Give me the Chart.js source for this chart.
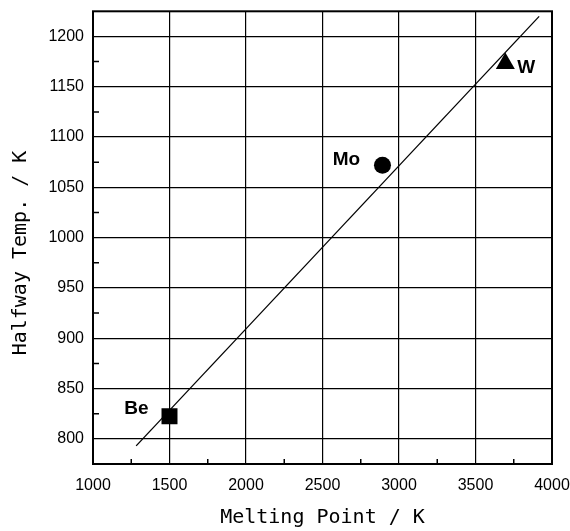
<!DOCTYPE html>
<html>
<head>
<meta charset="utf-8">
<script src="https://cdn.jsdelivr.net/npm/chart.js@4"></script>
<style>
  body { margin: 0; background: #fff; }
</style>
</head>
<body>
<canvas id="chart" width="570" height="531"></canvas>
<script>
const metals = ['Be', 'Mo', 'W']
const meltingPoint = [1500, 2892, 3695]
const halfwayTemp = [822.5, 1072, 1173]
const fitX = [1282, 3916]
const fitY = [793, 1220]
const xTicks = [1000, 1500, 2000, 2500, 3000, 3500, 4000]
const yTicks = [800, 850, 900, 950, 1000, 1050, 1100, 1150, 1200]
const xMinor = [1250, 1750, 2250, 2750, 3250, 3750]
const yMinor = [825, 875, 925, 975, 1025, 1075, 1125, 1175]

// label offsets from each marker, in pixels
const labelOffset = [[-33, -7], [-36, -5], [21, 4]]

const frame = {
    id: 'frame',
    afterDatasetsDraw(chart) {
        const { ctx, chartArea: a, scales } = chart
        ctx.save()
        ctx.strokeStyle = '#000'
        ctx.lineWidth = 2
        ctx.strokeRect(a.left, a.top, a.right - a.left, a.bottom - a.top)

        // minor ticks, drawn inwards
        ctx.lineWidth = 1.5
        ctx.beginPath()
        xMinor.forEach(v => {
            const x = scales.x.getPixelForValue(v)
            ctx.moveTo(x, a.bottom)
            ctx.lineTo(x, a.bottom - 5)
        })
        yMinor.forEach(v => {
            const y = scales.y.getPixelForValue(v)
            ctx.moveTo(a.left, y)
            ctx.lineTo(a.left + 6, y)
        })
        ctx.stroke()

        // point labels
        const meta = chart.getDatasetMeta(0)
        ctx.fillStyle = '#000'
        ctx.font = 'bold 19px "Liberation Sans Narrow", "Liberation Sans", sans-serif'
        ctx.textAlign = 'center'
        ctx.textBaseline = 'middle'
        meta.data.forEach((el, i) => {
            ctx.fillText(metals[i], el.x + labelOffset[i][0], el.y + labelOffset[i][1])
        })

        // axis titles
        ctx.font = '20px "DejaVu Sans Mono", monospace'
        ctx.fillText('Melting Point / K', (a.left + a.right) / 2, 518)
        ctx.translate(21, 253)
        ctx.rotate(-Math.PI / 2)
        ctx.fillText('Halfway Temp. / K', 0, 0)
        ctx.restore()
    }
}

const tickFont = { family: '"Liberation Sans", Arial, sans-serif', size: 16 }

function noPad(s) {
    s.paddingLeft = 0
    s.paddingRight = 0
    s.paddingTop = 0
    s.paddingBottom = 0
}

new Chart(document.getElementById('chart'), {
    type: 'scatter',
    data: {
        datasets: [{
            data: meltingPoint.map((x, i) => ({ x: x, y: halfwayTemp[i] })),
            pointStyle: ['rect', 'circle', 'triangle'],
            pointRadius: [11.3, 8.5, 11],
            backgroundColor: '#000',
            borderColor: '#000',
            borderWidth: 0
        }, {
            type: 'line',
            data: fitX.map((x, i) => ({ x: x, y: fitY[i] })),
            borderColor: '#000',
            borderWidth: 1.3,
            pointRadius: 0,
            fill: false
        }]
    },
    options: {
        responsive: false,
        animation: false,
        layout: { padding: { top: 11, right: 18, left: 0, bottom: 0 } },
        plugins: {
            legend: { display: false },
            tooltip: { enabled: false }
        },
        scales: {
            x: {
                type: 'linear',
                min: 1000,
                max: 4000,
                afterBuildTicks: s => { s.ticks = xTicks.map(v => ({ value: v })) },
                afterFit: s => { s.height = 67; noPad(s) },
                grid: { color: '#000', lineWidth: 1.2, drawTicks: false },
                border: { display: false },
                ticks: { color: '#000', font: tickFont, padding: 12, maxRotation: 0, callback: v => String(v) }
            },
            y: {
                min: 775,
                max: 1225,
                afterBuildTicks: s => { s.ticks = yTicks.map(v => ({ value: v })) },
                afterFit: s => { s.width = 93; noPad(s) },
                grid: { color: '#000', lineWidth: 1.2, drawTicks: false },
                border: { display: false },
                ticks: { color: '#000', font: tickFont, padding: 9, callback: v => String(v) }
            }
        }
    },
    plugins: [frame]
})
</script>
</body>
</html>
